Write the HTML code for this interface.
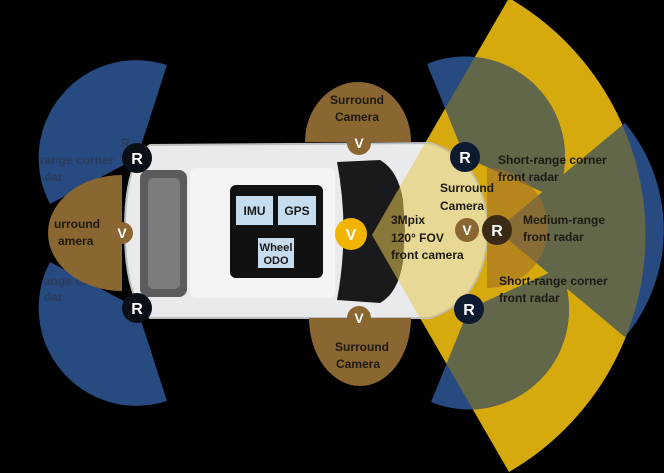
<!DOCTYPE html>
<html><head><meta charset="utf-8"><style>
html,body{margin:0;padding:0;background:#000;}
svg{display:block;}
text{font-family:"Liberation Sans",sans-serif;font-weight:bold;}
</style></head><body>
<svg width="664" height="473" viewBox="0 0 664 473" xmlns="http://www.w3.org/2000/svg">
<defs>
<clipPath id="yw"><path d="M372,235 L509,-2 A274,274 0 0,1 509,472 Z"/></clipPath>
<clipPath id="car"><path d="M150,145 L430,143 Q485,160 488,230 Q485,300 430,318 L150,318 Q125,300 125,230 Q125,160 150,145 Z"/></clipPath>
</defs>
<rect width="664" height="473" fill="#000"/>
<path d="M372,235 L509,-2 A274,274 0 0,1 509,472 Z" fill="#d6a90c"/>
<g fill="#274a80">
<path d="M137,158 L167,65 A98,98 0 0,0 50,204 Z"/>
<path d="M137,308 L167,401 A98,98 0 0,1 50,262 Z"/>
<path d="M465,157 L427,64 A100,100 0 0,1 556,198 Z"/>
<path d="M469,309 L431,402 A100,100 0 0,0 560,268 Z"/>
<path d="M497,230 L625,123 A167,167 0 0,1 625,337 Z"/>
</g>
<g fill="#63674a" clip-path="url(#yw)">
<path d="M465,157 L427,64 A100,100 0 0,1 556,198 Z"/>
<path d="M469,309 L431,402 A100,100 0 0,0 560,268 Z"/>
<path d="M497,230 L625,123 A167,167 0 0,1 625,337 Z"/>
</g>
<g fill="#2c3c5c" font-size="12">
<text x="40" y="164">range corner</text>
<text x="44" y="181">dar</text>
<text x="44" y="285">ange corner</text>
<text x="44" y="301">dar</text>
<text x="121" y="147">R</text>
</g>
<path d="M150,145 L430,143 Q485,160 488,230 Q485,300 430,318 L150,318 Q125,300 125,230 Q125,160 150,145 Z" fill="#e9eaec" stroke="#bdbdbd" stroke-width="2"/>
<rect x="140" y="170" width="47" height="127" rx="8" fill="#5a5b5e"/>
<rect x="148" y="178" width="32" height="111" rx="5" fill="#7b7c7f"/>
<rect x="190" y="168" width="145" height="130" rx="6" fill="#f4f4f4"/>
<path d="M337,162 L380,160 Q398,170 403,200 L405,230 L403,262 Q398,293 380,303 L337,300 Q350,230 337,162 Z" fill="#1a1a1c"/>
<g clip-path="url(#car)"><path d="M372,235 L509,-2 A274,274 0 0,1 509,472 Z" fill="#e6c850" opacity="0.55"/></g>
<path d="M487,168 A61,60 0 0,1 487,288 Z" fill="#a0702a" opacity="0.6"/>
<rect x="230" y="185" width="93" height="93" rx="6" fill="#111"/>
<rect x="236" y="196" width="37" height="29" fill="#c6dcef"/>
<rect x="278" y="196" width="38" height="29" fill="#c6dcef"/>
<rect x="258" y="238" width="36" height="30" fill="#c6dcef"/>
<g fill="#1a1a1a" font-size="12" text-anchor="middle">
<text x="254.5" y="215">IMU</text>
<text x="297" y="215">GPS</text>
<text x="276" y="251" font-size="11" textLength="33" lengthAdjust="spacingAndGlyphs">Wheel</text>
<text x="276" y="264" font-size="11">ODO</text>
</g>
<g fill="#8a6630">
<path d="M305,142 A53,60 0 0,1 411,142 Z"/>
<path d="M309,318 A51,68 0 0,0 411,318 Z"/>
<path d="M122,175 A74,58 0 0,0 122,291 Z"/>
</g>
<g fill="#1e1a12" font-size="12">
<text x="357" y="104" text-anchor="middle">Surround</text>
<text x="357" y="121" text-anchor="middle">Camera</text>
<text x="362" y="351" text-anchor="middle">Surround</text>
<text x="358" y="368" text-anchor="middle">Camera</text>
<text x="54" y="228">urround</text>
<text x="58" y="245">amera</text>
<text x="440" y="192">Surround</text>
<text x="440" y="210">Camera</text>
<text x="391" y="224">3Mpix</text>
<text x="391" y="242">120° FOV</text>
<text x="391" y="259">front camera</text>
<text x="498" y="164">Short-range corner</text>
<text x="498" y="181">front radar</text>
<text x="499" y="285">Short-range corner</text>
<text x="499" y="302">front radar</text>
<text x="523" y="224">Medium-range</text>
<text x="523" y="241">front radar</text>
</g>
<g font-size="16" fill="#fff" text-anchor="middle">
<circle cx="137" cy="158" r="15" fill="#0b0f18"/><text x="137" y="164">R</text>
<circle cx="137" cy="308" r="15" fill="#0b0f18"/><text x="137" y="314">R</text>
<circle cx="465" cy="157" r="15" fill="#0e1a30"/><text x="465" y="163">R</text>
<circle cx="469" cy="309" r="15" fill="#0e1a30"/><text x="469" y="315">R</text>
<circle cx="497" cy="230" r="15" fill="#3a2a16"/><text x="497" y="236">R</text>
<circle cx="351" cy="234" r="16" fill="#f2b400"/><text x="351" y="240">V</text>
</g>
<g font-size="14" fill="#fff" text-anchor="middle">
<circle cx="359" cy="143" r="12" fill="#8b6630"/><text x="359" y="148">V</text>
<circle cx="359" cy="318" r="12" fill="#8b6630"/><text x="359" y="323">V</text>
<circle cx="122" cy="233" r="11" fill="#8b6630"/><text x="122" y="238">V</text>
<circle cx="467" cy="230" r="12" fill="#8b6630"/><text x="467" y="235">V</text>
</g>
</svg>
</body></html>
